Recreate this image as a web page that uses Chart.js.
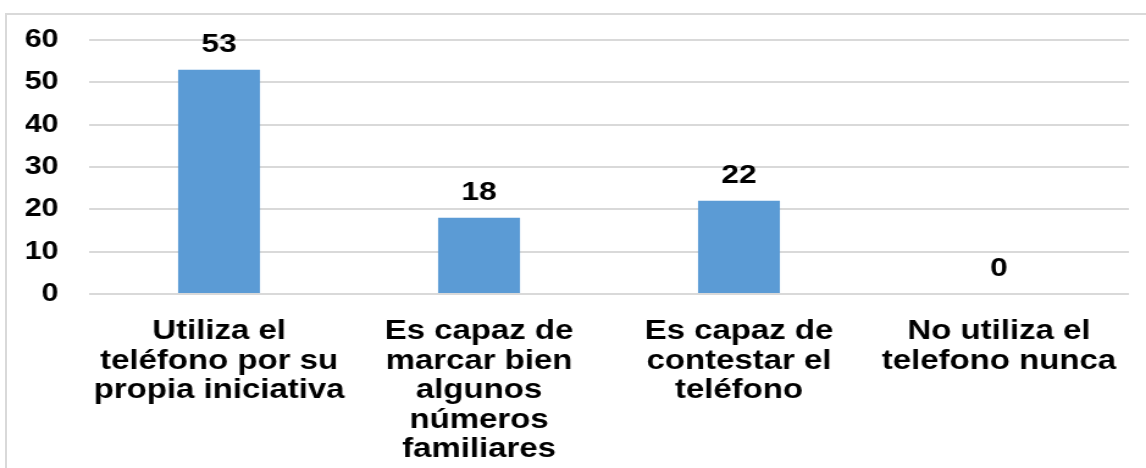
<!DOCTYPE html>
<html>
<head>
<meta charset="utf-8">
<script src="https://cdn.jsdelivr.net/npm/chart.js@4.4.1/dist/chart.umd.min.js"></script>
<style>
  html, body { margin: 0; padding: 0; background: #fff; overflow: hidden; }
  #frame {
    position: absolute; left: 5px; top: 13px;
    width: 1200px; height: 520px;
    border: 2px solid #d9d9d9;
  }
  #chart { position: absolute; left: 0; top: 0; }
</style>
</head>
<body>
<div id="frame"></div>
<!-- the reference image is stretched sideways, so the canvas is too -->
<canvas id="chart" width="939" height="468" style="width:1146px;height:468px"></canvas>
<script>
// --- Data ---
const categories = [
    ['Utiliza el', 'teléfono por su', 'propia iniciativa'],
    ['Es capaz de', 'marcar bien', 'algunos', 'números', 'familiares'],
    ['Es capaz de', 'contestar el', 'teléfono'],
    ['No utiliza el', 'telefono nunca']
];
const values = [53, 18, 22, 0];
const yTicks = [0, 10, 20, 30, 40, 50, 60];

const FONT = '"Liberation Sans", Arial, sans-serif';

// value labels above each bar
const valueLabels = {
    id: 'valueLabels',
    afterDatasetsDraw(chart) {
        const ctx = chart.ctx;
        const meta = chart.getDatasetMeta(0);
        ctx.save();
        ctx.font = 'bold 26px ' + FONT;
        ctx.fillStyle = '#000';
        ctx.textAlign = 'center';
        ctx.textBaseline = 'middle';
        meta.data.forEach((bar, i) => {
            ctx.fillText(String(values[i]), bar.x, bar.y - 25);
        });
        ctx.restore();
    }
};

new Chart(document.getElementById('chart').getContext('2d'), {
    type: 'bar',
    data: {
        labels: categories,
        datasets: [{
            data: values,
            backgroundColor: '#5b9bd5',
            borderWidth: 0,
            barPercentage: 0.315,
            categoryPercentage: 1
        }]
    },
    options: {
        responsive: false,
        animation: false,
        layout: { padding: { left: 21, right: 14, top: 40, bottom: 3 } },
        plugins: { legend: { display: false }, tooltip: { enabled: false } },
        scales: {
            x: {
                grid: { display: false },
                border: { display: false },
                afterFit: scale => { scale.height = 171; },
                ticks: {
                    color: '#000',
                    padding: 15,
                    maxRotation: 0,
                    autoSkip: false,
                    font: { family: FONT, size: 27, weight: 'bold', lineHeight: '29.5px' }
                }
            },
            y: {
                min: yTicks[0],
                max: yTicks[yTicks.length - 1],
                afterBuildTicks: scale => { scale.ticks = yTicks.map(v => ({ value: v })); },
                afterFit: scale => { scale.width = 52; },
                grid: { color: '#d9d9d9', lineWidth: 2, drawTicks: false },
                border: { display: false },
                ticks: {
                    color: '#000',
                    padding: 25,
                    font: { family: FONT, size: 25, weight: 'bold' }
                }
            }
        }
    },
    plugins: [valueLabels]
});
</script>
</body>
</html>
